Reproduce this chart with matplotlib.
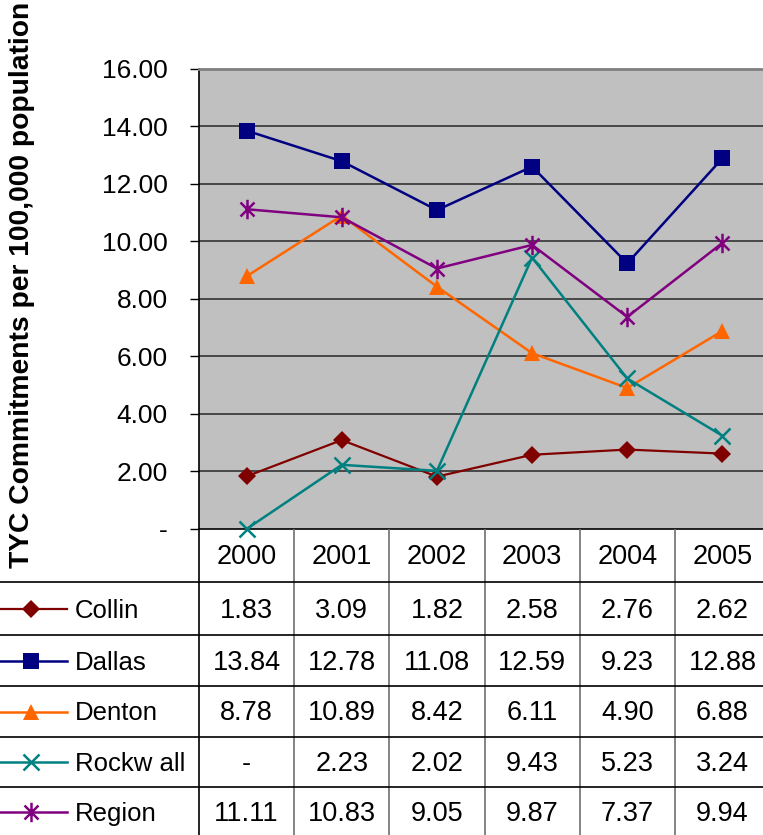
import matplotlib
matplotlib.use('Agg')
import matplotlib.pyplot as plt
from matplotlib.path import Path
from matplotlib.ticker import FuncFormatter

plt.rcParams['font.family'] = ['Liberation Sans', 'DejaVu Sans']

years = ['2000', '2001', '2002', '2003', '2004', '2005']
collin = [1.83, 3.09, 1.82, 2.58, 2.76, 2.62]
dallas = [13.84, 12.78, 11.08, 12.59, 9.23, 12.88]
denton = [8.78, 10.89, 8.42, 6.11, 4.90, 6.88]
rockwall = [0.0, 2.23, 2.02, 9.43, 5.23, 3.24]
region = [11.11, 10.83, 9.05, 9.87, 7.37, 9.94]

names = ['Collin', 'Dallas', 'Denton', 'Rockw all', 'Region']
series = [collin, dallas, denton, rockwall, region]

# asterisk: vertical bar plus an x
star = Path([(0, -1), (0, 1), (-0.72, -0.72), (0.72, 0.72), (-0.72, 0.72), (0.72, -0.72)],
            [Path.MOVETO, Path.LINETO, Path.MOVETO, Path.LINETO, Path.MOVETO, Path.LINETO])

styles = [
    dict(color='#800000', marker='D', ms=9, lw=1.6, mew=0),
    dict(color='#000080', marker='s', ms=11, lw=1.8, mew=0),
    dict(color='#FF6600', marker='^', ms=12, lw=1.8, mew=0),
    dict(color='#008080', marker='x', ms=12, lw=1.8, mew=1.8),
    dict(color='#800080', marker=star, ms=14, lw=1.8, mew=1.8),
]

W, H = 763, 835
fig = plt.figure(figsize=(W / 100, H / 100), dpi=100)

left, right, top, bottom = 199, 770, 68.5, 529
ax = fig.add_axes([left / W, 1 - bottom / H, (right - left) / W, (bottom - top) / H])
ax.set_facecolor('#C0C0C0')

x = range(len(years))
for vals, st in zip(series, styles):
    ax.plot(x, vals, clip_on=False, zorder=3, **st)

ax.set_xlim(-0.5, 5.5)
ax.set_ylim(0, 16)
ax.set_yticks(range(0, 17, 2))
ax.yaxis.set_major_formatter(FuncFormatter(lambda v, p: '-' if v == 0 else '%.2f' % v))
ax.tick_params(axis='y', length=6.5, width=1, pad=16, labelsize=19, color='black')
ax.set_xticks([])
for y in range(2, 16, 2):
    ax.axhline(y, color='#333333', lw=1.2, zorder=1)
ax.spines['top'].set_color('#808080')
ax.spines['top'].set_linewidth(2)
ax.spines['right'].set_visible(False)
ax.spines['left'].set_linewidth(1.2)
ax.spines['bottom'].set_linewidth(1.2)

fig.text(22 / W, 1 - 285 / H, 'TYC Commitments per 100,000 population',
         rotation=90, ha='center', va='center', fontsize=20.3, fontweight='bold')

# data table below the plot, drawn in pixel units
tbl_h = H - bottom
tax = fig.add_axes([0, 0, right / W, tbl_h / H])
tax.set_xlim(0, right)
tax.set_ylim(tbl_h, 0)
tax.axis('off')

rows = [0, 53, 106, 157, 208, 258, 310]
colw = (right - left) / len(years)
cols = [left + k * colw for k in range(len(years) + 1)]

for c in cols[1:]:
    tax.plot([c, c], [0, tbl_h], color='#707070', lw=1.2)
tax.plot([left, left], [0, tbl_h], color='black', lw=1.2)
for r in rows[1:-1]:
    tax.plot([0, right], [r, r], color='black', lw=1.2)

for i, yr in enumerate(years):
    tax.text((cols[i] + cols[i + 1]) / 2, (rows[0] + rows[1]) / 2 + 1, yr,
             ha='center', va='center', fontsize=19.5)

for j, (name, vals, st) in enumerate(zip(names, series, styles)):
    yc = (rows[j + 1] + rows[j + 2]) / 2
    if j == len(names) - 1:
        yc = rows[j + 1] + 25
    tax.plot([0, 67], [yc, yc], color=st['color'], lw=st['lw'])
    tax.plot([31], [yc], color=st['color'], marker=st['marker'], ms=st['ms'],
             mew=st['mew'], lw=0)
    tax.text(75, yc + 2, name, ha='left', va='center', fontsize=18.5)
    for i, v in enumerate(vals):
        tax.text((cols[i] + cols[i + 1]) / 2, yc + 2, '-' if v == 0 else '%.2f' % v,
                 ha='center', va='center', fontsize=19.5)

fig.savefig('out.png', dpi=100)
